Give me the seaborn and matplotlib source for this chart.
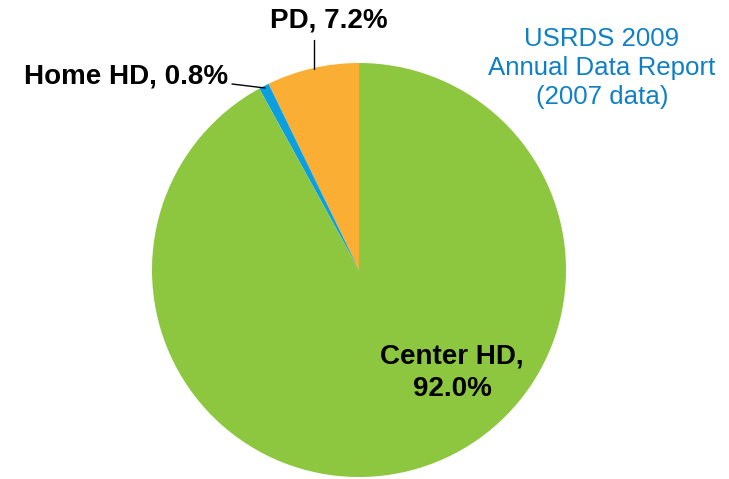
import matplotlib
matplotlib.use("Agg")
import matplotlib.pyplot as plt
import seaborn as sns

# Dialysis modality share, USRDS 2009 (2007 data)
labels = ["PD", "Home HD", "Center HD"]
values = [7.2, 0.8, 92.0]
colors = ["#FAAF34", "#0AA0E0", "#8DC63F"]

sns.set_style("white")
plt.rcParams['font.family'] = ['Liberation Sans', 'DejaVu Sans']
plt.rcParams['text.color'] = 'black'

fig = plt.figure(figsize=(7.29, 4.79), dpi=100)
ax = fig.add_axes([0, 0, 1, 1])

# start at 12 o'clock, going counterclockwise
ax.pie(values, colors=colors, startangle=90, counterclock=True,
       radius=1.0, wedgeprops=dict(linewidth=0))

# place the unit circle where the reference draws it (centre 359,270 px; r 207 px)
r = 207.0
cx, cy = 359.0, 270.0
ax.set_xlim(-cx / r, (729 - cx) / r)
ax.set_ylim(-(479 - cy) / r, cy / r)
ax.set_aspect("equal")
ax.axis("off")


def px(x, y):
    return ((x - cx) / r, (cy - y) / r)


# PD label with leader line
ax.text(*px(329, 21), f"{labels[0]}, {values[0]}%", ha="center", va="center",
        fontsize=20, fontweight="bold", color="black")
ax.plot(*zip(px(314, 40), px(314, 69)), color="black", lw=1)

# Home HD label with leader line
ax.text(*px(228, 76), f"{labels[1]}, {values[1]}%", ha="right", va="center",
        fontsize=20, fontweight="bold", color="black")
ax.plot(*zip(px(232, 84), px(265, 88)), color="black", lw=1)

# Center HD label inside the slice
ax.text(*px(452, 373), f"{labels[2]},\n{values[2]:.1f}%", ha="center", va="center",
        fontsize=20, fontweight="bold", linespacing=1.3, color="black")

# source note
ax.text(*px(602, 68), "USRDS 2009\nAnnual Data Report\n(2007 data)",
        ha="center", va="center", fontsize=18.6, color="#0F80C6", linespacing=1.25)

fig.savefig("out.png", dpi=100)
